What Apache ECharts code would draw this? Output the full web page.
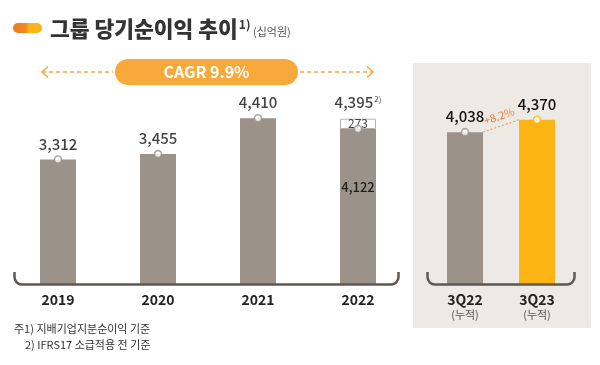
<!DOCTYPE html>
<html>
<head>
<meta charset="utf-8">
<script src="https://cdn.jsdelivr.net/npm/echarts@6/dist/echarts.min.js"></script>
<style>html,body{margin:0;padding:0;background:#fff}#c{width:600px;height:365px}</style>
</head>
<body>
<div id="c"></div>
<script>
const years = ['2019', '2020', '2021', '2022'];
const annualBase = [3312, 3455, 4410, 4122];
const ifrsAdj = [null, null, null, 273];
const annualTotal = [3312, 3455, 4410, 4395];
const totalNotes = ['', '', '', '2)'];
const quarters = ['3Q22', '3Q23'];
const quarterSub = ['(누적)', '(누적)'];
const cumProfit = [4038, 4370];
const growthText = '+8.2%';
const cagrText = 'CAGR 9.9%';

const GREY = '#9B928A';
const YELLOW = '#FCB515';
const ORANGE = '#F7A93B';
const FONT = '"Noto Sans CJK KR", "Noto Sans", sans-serif';
const fmt = v => v.toLocaleString('en-US');

const chart = echarts.init(document.getElementById('c'), null, {renderer: 'canvas'});

function bracket(x1, x2, yTop, yBase, r) {
  const st = {stroke: '#5E5752', lineWidth: 2.5, fill: null, lineCap: 'butt'};
  return [
    {type: 'line', z: 100, shape: {x1: x1, y1: yTop, x2: x1, y2: yBase - r}, style: st},
    {type: 'arc', z: 100, shape: {cx: x1 + r, cy: yBase - r, r: r, startAngle: Math.PI / 2, endAngle: Math.PI, clockwise: true}, style: st},
    {type: 'line', z: 100, shape: {x1: x1 + r, y1: yBase, x2: x2 - r, y2: yBase}, style: st},
    {type: 'arc', z: 100, shape: {cx: x2 - r, cy: yBase - r, r: r, startAngle: 0, endAngle: Math.PI / 2, clockwise: true}, style: st},
    {type: 'line', z: 100, shape: {x1: x2, y1: yBase - r, x2: x2, y2: yTop}, style: st}
  ];
}

const baseItems = annualBase.map((v, i) => ({
  value: v,
  label: i === 3 ? {show: true, position: 'insideTop', distance: 52, formatter: fmt(v), fontSize: 13, color: '#222', fontWeight: 500, fontFamily: FONT} : {show: false}
}));

const option = {
  backgroundColor: '#fff',
  animation: false,
  textStyle: {fontFamily: FONT},
  grid: [
    {left: 8, width: 400, top: 96, height: 188},
    {left: 429, width: 144, top: 96, height: 188}
  ],
  xAxis: [
    {type: 'category', gridIndex: 0, data: years, axisLine: {show: false}, axisTick: {show: false},
     axisLabel: {margin: 9, fontSize: 14, fontWeight: 'bold', color: '#222', fontFamily: FONT}},
    {type: 'category', gridIndex: 1, data: quarters, axisLine: {show: false}, axisTick: {show: false},
     axisLabel: {margin: 8, fontFamily: FONT,
       formatter: (v, i) => '{a|' + v + '}\n{b|' + quarterSub[i] + '}',
       rich: {a: {fontSize: 14, fontWeight: 'bold', color: '#222', lineHeight: 16, fontFamily: FONT},
              b: {fontSize: 11, color: '#555', lineHeight: 14, fontFamily: FONT}}}}
  ],
  yAxis: [
    {type: 'value', gridIndex: 0, min: 0, max: 5000, show: false},
    {type: 'value', gridIndex: 1, min: 0, max: 5000, show: false}
  ],
  series: [
    {type: 'bar', xAxisIndex: 0, yAxisIndex: 0, stack: 'y', barWidth: 36, data: baseItems,
     itemStyle: {color: GREY}},
    {type: 'bar', xAxisIndex: 0, yAxisIndex: 0, stack: 'y', barWidth: 36, data: ifrsAdj,
     itemStyle: {color: '#fff', borderColor: '#B9B2AC', borderWidth: 1},
     label: {show: true, position: 'inside', fontSize: 12, color: '#444', formatter: p => p.value, fontFamily: FONT}},
    {type: 'scatter', xAxisIndex: 0, yAxisIndex: 0, symbolSize: 0, data: annualTotal, z: 5,
     label: {show: true, position: 'top', distance: 8, fontFamily: FONT,
       formatter: p => '{v|' + fmt(p.value) + '}' + (totalNotes[p.dataIndex] ? '{s|' + totalNotes[p.dataIndex] + '}' : ''),
       rich: {v: {fontSize: 15, color: '#111', fontWeight: 500, fontFamily: FONT},
              s: {fontSize: 8, color: '#111', verticalAlign: 'top', padding: [0, 0, 8, 1], fontFamily: FONT}}}},
    {type: 'scatter', xAxisIndex: 0, yAxisIndex: 0, symbol: 'circle', symbolSize: 7, data: annualBase, z: 6,
     itemStyle: {color: '#fff', borderColor: GREY, borderWidth: 1.6}},
    {type: 'bar', xAxisIndex: 1, yAxisIndex: 1, barWidth: 36,
     data: cumProfit.map((v, i) => ({value: v, itemStyle: {color: i === 0 ? GREY : YELLOW}})),
     label: {show: true, position: 'top', distance: 8, fontSize: 15, color: '#111', fontWeight: 500, formatter: p => fmt(p.value), fontFamily: FONT}},
    {type: 'scatter', xAxisIndex: 1, yAxisIndex: 1, symbol: 'circle', symbolSize: 7, z: 6,
     data: cumProfit.map((v, i) => ({value: v, itemStyle: {color: '#fff', borderColor: i === 0 ? GREY : YELLOW, borderWidth: 1.6}}))}
  ],
  graphic: [
    {type: 'rect', id: 'panel', z: -10, shape: {x: 413, y: 63, width: 178, height: 265}, style: {fill: '#EDEAE5'}},
    {type: 'rect', id: 'pill', shape: {x: 13, y: 23, width: 29, height: 10, r: 5},
     style: {fill: new echarts.graphic.LinearGradient(0, 0, 1, 0, [
       {offset: 0, color: '#EE7A1E'}, {offset: 0.45, color: '#F08A24'}, {offset: 0.55, color: '#FDB515'}, {offset: 1, color: '#FDB515'}])}},
    {type: 'text', id: 'title', x: 50, y: 29,
     style: {text: '{t|그룹 당기순이익 추이}{s|1)}{u| (십억원)}', verticalAlign: 'middle', fontFamily: FONT,
       rich: {t: {fontSize: 21.5, fontWeight: 900, fill: '#333', fontFamily: FONT, verticalAlign: 'bottom'},
              s: {fontSize: 12, fontWeight: 'bold', fill: '#333', fontFamily: FONT, verticalAlign: 'top', padding: [0, 0, 4, 1]},
              u: {fontSize: 11, fill: '#555', fontFamily: FONT, verticalAlign: 'bottom', padding: [0, 0, 2, 0]}}}},
    {type: 'rect', id: 'cagrBox', shape: {x: 115, y: 59, width: 183, height: 26, r: 13}, style: {fill: ORANGE}},
    {type: 'text', id: 'cagrTxt', x: 206.5, y: 72, style: {text: cagrText, fill: '#fff', fontSize: 16, fontWeight: 'bold', align: 'center', verticalAlign: 'middle', fontFamily: FONT}},
    {type: 'line', shape: {x1: 42, y1: 72, x2: 113, y2: 72}, style: {stroke: ORANGE, lineWidth: 1.5, lineDash: [4, 3]}},
    {type: 'polyline', shape: {points: [[48, 66.5], [42, 72], [48, 77.5]]}, style: {stroke: ORANGE, lineWidth: 1.5, fill: null}},
    {type: 'line', shape: {x1: 300, y1: 72, x2: 373, y2: 72}, style: {stroke: ORANGE, lineWidth: 1.5, lineDash: [4, 3]}},
    {type: 'polyline', shape: {points: [[367, 66.5], [373, 72], [367, 77.5]]}, style: {stroke: ORANGE, lineWidth: 1.5, fill: null}}
  ].concat(bracket(14.5, 398.5, 272, 284.5, 7.5), bracket(427.5, 574.5, 272, 284.5, 7.5), [
    {type: 'text', x: 14, y: 329, style: {text: '주1) 지배기업지분순이익 기준', fontSize: 11, fill: '#333', verticalAlign: 'middle', fontFamily: FONT}},
    {type: 'text', x: 25, y: 345, style: {text: '2) IFRS17 소급적용 전 기준', fontSize: 11, fill: '#333', verticalAlign: 'middle', fontFamily: FONT}}
  ])
};
chart.setOption(option);

// connector between the two cumulative bars, positioned from the axis scales
const p0 = chart.convertToPixel({xAxisIndex: 1, yAxisIndex: 1}, [quarters[0], cumProfit[0]]);
const p1 = chart.convertToPixel({xAxisIndex: 1, yAxisIndex: 1}, [quarters[1], cumProfit[1]]);
const half = 18;
const a = [p0[0] + half, p0[1]], b = [p1[0] - half, p1[1]];
const ang = Math.atan2(a[1] - b[1], b[0] - a[0]);
chart.setOption({graphic: [
  {type: 'line', id: 'conn', shape: {x1: a[0], y1: a[1], x2: b[0], y2: b[1]}, style: {stroke: '#F08A50', lineWidth: 1, lineDash: [2, 2]}},
  {type: 'text', id: 'growth', x: (a[0] + b[0]) / 2 - 2, y: (a[1] + b[1]) / 2 - 10, rotation: ang,
   style: {text: growthText, fill: '#EE7B3A', fontSize: 11, align: 'center', verticalAlign: 'middle', fontFamily: FONT}}
]});
</script>
</body>
</html>
